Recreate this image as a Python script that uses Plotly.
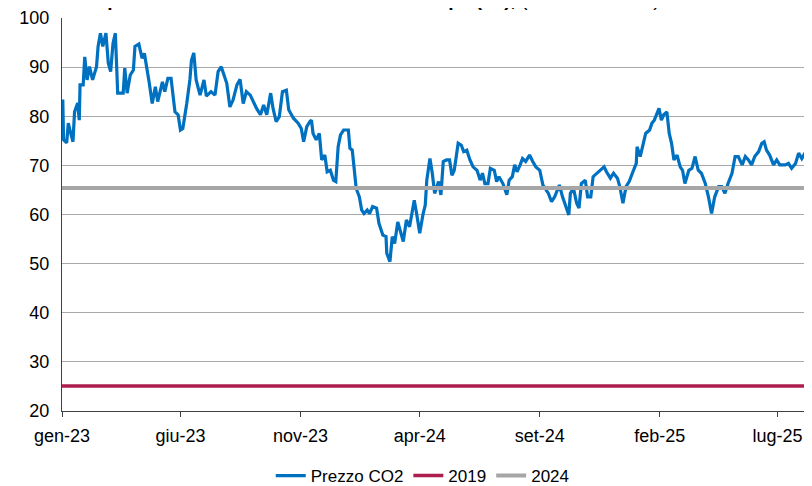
import plotly.graph_objects as go

dates = [
 "2023-01-02","2023-01-03","2023-01-07","2023-01-09","2023-01-12","2023-01-15","2023-01-17","2023-01-21","2023-01-23","2023-01-24",
 "2023-01-28","2023-01-30","2023-02-02","2023-02-05","2023-02-09","2023-02-14","2023-02-16","2023-02-19","2023-02-22","2023-02-26",
 "2023-03-01","2023-03-04","2023-03-07","2023-03-10","2023-03-13","2023-03-20","2023-03-22","2023-03-25","2023-03-29","2023-04-02",
 "2023-04-04","2023-04-09","2023-04-13","2023-04-16","2023-04-22","2023-04-26","2023-04-30","2023-05-03","2023-05-09","2023-05-12",
 "2023-05-16","2023-05-20","2023-05-25","2023-05-29","2023-06-01","2023-06-04","2023-06-09","2023-06-13","2023-06-15","2023-06-18",
 "2023-06-21","2023-06-26","2023-07-01","2023-07-04","2023-07-10","2023-07-15","2023-07-19","2023-07-23","2023-07-30","2023-08-03",
 "2023-08-07","2023-08-12","2023-08-16","2023-08-20","2023-08-24","2023-08-29","2023-09-06","2023-09-11","2023-09-15","2023-09-19",
 "2023-09-24","2023-09-27","2023-10-01","2023-10-05","2023-10-09","2023-10-14","2023-10-17","2023-10-23","2023-10-29","2023-11-02",
 "2023-11-05","2023-11-09","2023-11-13","2023-11-15","2023-11-17","2023-11-21","2023-11-25","2023-11-28","2023-12-02","2023-12-05",
 "2023-12-09","2023-12-13","2023-12-16","2023-12-19","2023-12-22","2023-12-26","2024-01-01","2024-01-03","2024-01-06","2024-01-09",
 "2024-01-11","2024-01-15","2024-01-18","2024-01-21","2024-01-25","2024-01-28","2024-02-01","2024-02-06","2024-02-09","2024-02-14",
 "2024-02-18","2024-02-19","2024-02-23","2024-02-26","2024-02-29","2024-03-04","2024-03-08","2024-03-11","2024-03-15","2024-03-19",
 "2024-03-22","2024-03-25","2024-03-28","2024-04-01","2024-04-05","2024-04-08","2024-04-10","2024-04-14","2024-04-17","2024-04-20",
 "2024-04-25","2024-04-28","2024-05-01","2024-05-05","2024-05-09","2024-05-12","2024-05-15","2024-05-18","2024-05-20","2024-05-24",
 "2024-05-27","2024-05-31","2024-06-04","2024-06-08","2024-06-13","2024-06-17","2024-06-20","2024-06-23","2024-06-27","2024-06-30",
 "2024-07-05","2024-07-08","2024-07-11","2024-07-16","2024-07-21","2024-07-24","2024-07-28","2024-07-31","2024-08-03","2024-08-07",
 "2024-08-10","2024-08-14","2024-08-19","2024-08-23","2024-08-27","2024-09-01","2024-09-05","2024-09-12","2024-09-16","2024-09-20",
 "2024-09-26","2024-09-30","2024-10-04","2024-10-08","2024-10-10","2024-10-14","2024-10-18","2024-10-21","2024-10-24","2024-10-29",
 "2024-11-01","2024-11-05","2024-11-08","2024-11-13","2024-11-17","2024-11-22","2024-11-25","2024-11-30","2024-12-04","2024-12-09",
 "2024-12-12","2024-12-16","2024-12-20","2024-12-24","2024-12-28","2025-01-02","2025-01-03","2025-01-07","2025-01-11","2025-01-14",
 "2025-01-19","2025-01-22","2025-01-25","2025-01-28","2025-01-31","2025-02-03","2025-02-06","2025-02-10","2025-02-13","2025-02-16",
 "2025-02-19","2025-02-23","2025-02-27","2025-03-02","2025-03-05","2025-03-10","2025-03-14","2025-03-18","2025-03-22","2025-03-26",
 "2025-03-31","2025-04-04","2025-04-08","2025-04-12","2025-04-17","2025-04-21","2025-04-25","2025-04-29","2025-05-04","2025-05-08",
 "2025-05-12","2025-05-17","2025-05-21","2025-05-25","2025-05-29","2025-06-02","2025-06-07","2025-06-11","2025-06-14","2025-06-17",
 "2025-06-21","2025-06-26","2025-06-30","2025-07-04","2025-07-11","2025-07-15","2025-07-19","2025-07-24","2025-07-28","2025-08-01",
 "2025-08-05","2025-08-09","2025-08-13",
]

prezzo_co2 = [
 83.4,75.2,74.6,78.6,76.6,74.8,80.9,82.7,79.2,86.4,
 86.4,92.1,87.4,90.1,87.4,90.1,94.2,96.9,94.2,96.9,
 90.8,89.1,94.8,96.9,84.7,84.7,89.8,84.7,88.4,89.4,
 94.2,94.7,91.8,92.8,87.0,82.6,86.0,83.0,87.0,85.0,
 87.7,87.7,80.9,80.3,77.2,77.5,82.6,87.4,91.4,92.9,
 87.4,84.3,87.4,84.1,85.0,84.3,89.1,90.1,86.7,81.9,
 83.3,86.4,87.5,82.6,85.0,84.3,81.6,80.3,82.3,80.3,
 84.7,81.6,78.9,79.9,85.0,85.3,81.3,79.6,78.6,77.5,
 74.8,77.9,78.9,79.2,76.5,75.2,76.5,71.1,72.1,68.7,
 69.0,67.0,66.7,73.8,76.2,77.2,77.2,73.5,73.1,67.7,
 65.3,63.6,60.9,60.2,60.9,60.2,61.6,61.3,58.2,55.8,
 55.5,52.1,50.4,55.5,54.1,58.5,56.2,54.5,58.9,57.5,
 60.2,62.9,60.2,56.2,59.9,61.9,67.0,71.4,68.4,64.3,
 66.7,64.0,70.8,71.1,71.1,68.0,69.0,71.8,74.5,74.1,
 72.8,73.1,71.1,69.7,69.0,67.0,68.4,66.3,66.3,69.4,
 69.0,66.7,67.7,66.3,64.0,67.0,67.7,70.1,68.7,70.1,
 71.4,70.8,72.1,70.8,69.7,69.0,66.0,64.3,62.6,63.6,
 66.0,63.6,61.9,59.9,64.3,65.3,62.3,61.3,66.3,67.0,
 63.6,63.6,67.7,68.4,69.0,69.7,68.7,67.4,68.4,67.4,
 65.7,62.3,65.7,66.7,68.4,70.4,73.8,71.8,74.5,76.5,
 77.2,78.6,79.2,80.6,81.6,79.2,80.3,80.9,76.5,74.5,
 71.1,72.1,69.7,69.0,66.3,69.0,69.4,71.8,69.0,68.4,
 66.3,63.6,60.2,63.6,65.7,65.7,64.3,66.3,68.4,71.8,
 71.8,70.1,71.8,71.1,70.1,71.8,72.8,74.5,74.8,73.1,
 72.1,70.1,71.1,70.1,70.1,70.4,69.4,70.4,72.5,71.4,
 72.5,71.1,70.4,
]

media_2019 = 25.1
media_2024 = 65.4

x_start = "2023-01-01"
x_end = "2025-08-14"

tick_vals = ["2023-01-01","2023-06-01","2023-11-01","2024-04-01","2024-09-01","2025-02-01","2025-07-01"]
tick_text = ["gen-23","giu-23","nov-23","apr-24","set-24","feb-25","lug-25"]

title_text = "<b>Prezzo dei permessi di emissione di CO2 in Europa (€/t),</b> (euro/tonnellata)"

FONT = "Liberation Sans, Arial, sans-serif"

# plot area: left 54, top 10, bottom 83, right 8 (page has an 8px body margin)
PLOT_H = 486 - 10 - 83

fig = go.Figure()
fig.add_trace(go.Scatter(
    x=dates, y=prezzo_co2, mode="lines", name="Prezzo CO2",
    line=dict(color="#0070C0", width=3.2),
))
fig.add_trace(go.Scatter(
    x=[x_start, x_end], y=[media_2019, media_2019], mode="lines", name="2019",
    line=dict(color="#AD1E4E", width=3.5),
))
fig.add_trace(go.Scatter(
    x=[x_start, x_end], y=[media_2024, media_2024], mode="lines", name="2024",
    line=dict(color="#A6A6A6", width=4),
))

fig.update_layout(
    width=812, height=486,
    margin=dict(l=54, r=8, t=10, b=83, autoexpand=False),
    paper_bgcolor="white", plot_bgcolor="white",
    font=dict(family=FONT, size=18, color="#000000"),
    showlegend=True,
    legend=dict(orientation="h", x=0.481, xref="paper", xanchor="center",
                y=-65.0 / PLOT_H, yref="paper", yanchor="middle",
                font=dict(size=17), itemwidth=30, tracegroupgap=0,
                bgcolor="rgba(0,0,0,0)"),
    annotations=[dict(text=title_text, xref="paper", yref="paper",
                      x=-0.075, y=1.0 + 6.0 / PLOT_H, xanchor="left", yanchor="bottom",
                      showarrow=False, font=dict(size=19, family=FONT))],
)
fig.update_xaxes(
    type="date", range=[x_start, x_end], automargin=False,
    tickvals=tick_vals, ticktext=tick_text,
    showgrid=False, showline=True, linecolor="#404040", linewidth=1,
    ticks="outside", ticklen=5, tickcolor="#404040",
    zeroline=False, tickfont=dict(size=18), ticklabelstandoff=3,
)
fig.update_yaxes(
    range=[20, 100], dtick=10, showgrid=True, gridcolor="#A8A8A8", gridwidth=1,
    showline=True, linecolor="#404040", linewidth=1, ticks="", zeroline=False,
    automargin=False, tickfont=dict(size=18), ticklabelstandoff=8,
)

fig.write_html("out.html")
